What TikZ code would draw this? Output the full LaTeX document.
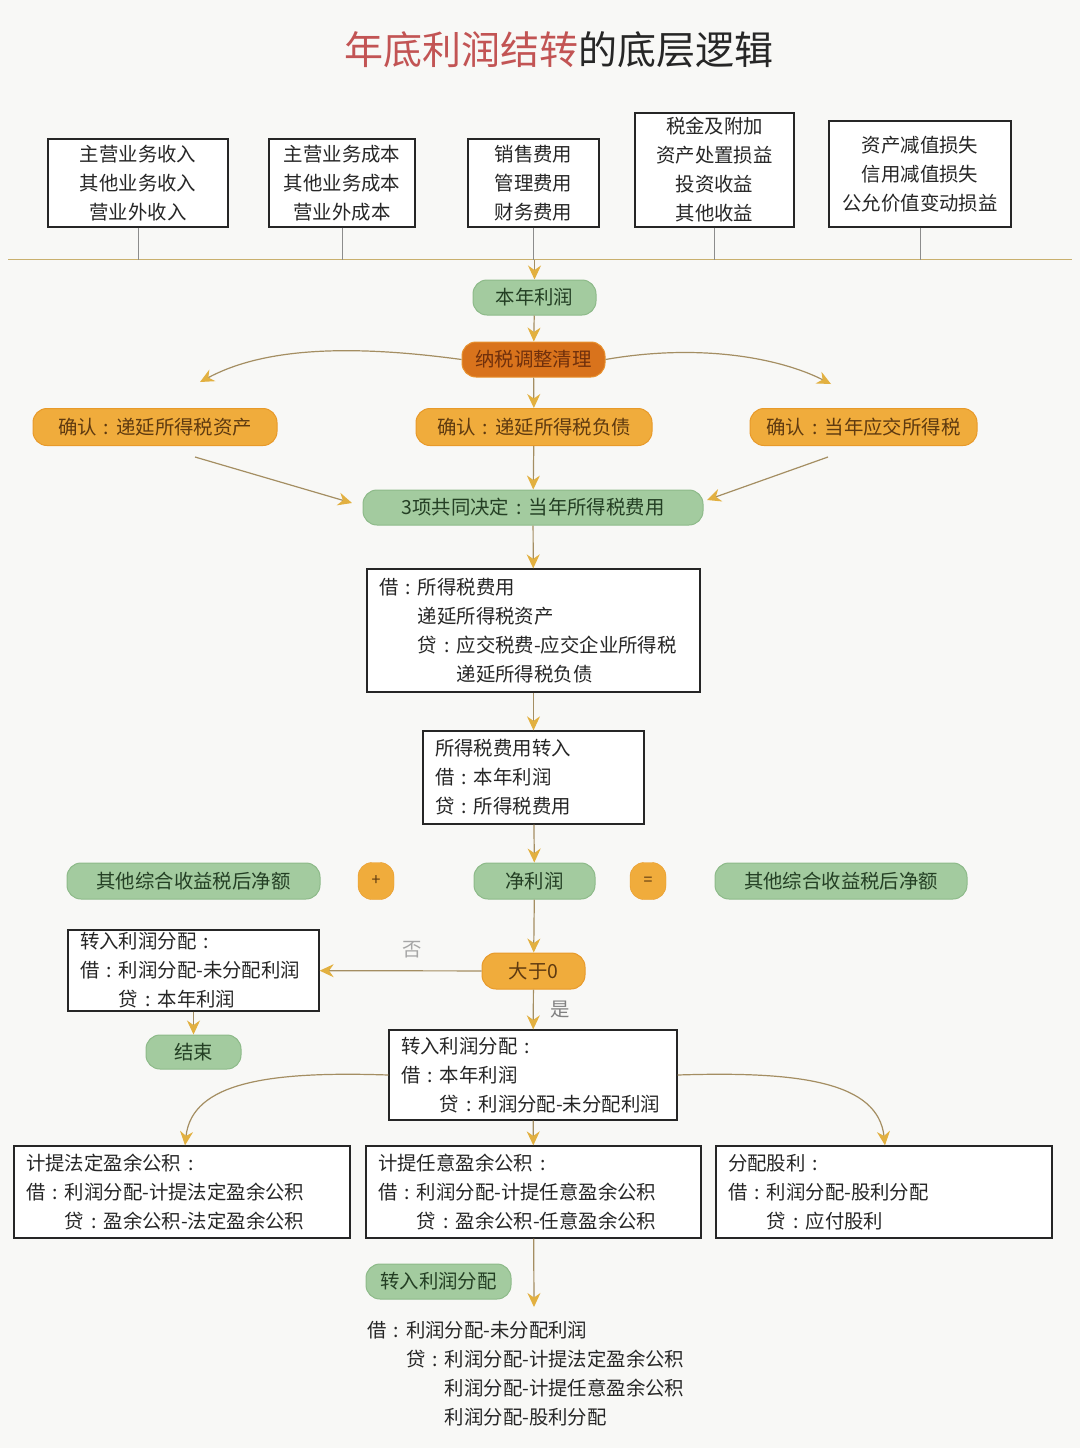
\documentclass[tikz,border=0pt]{standalone}
\usepackage{fontspec}
\setmainfont{Noto Sans CJK SC}
\usetikzlibrary{calc, positioning}
\usetikzlibrary{arrows.meta}

\definecolor{bgpaper}{HTML}{F8F8F6}
\definecolor{pillgreen}{HTML}{A3CB9F}
\definecolor{pillgreenline}{HTML}{8DBA89}
\definecolor{pillorange}{HTML}{F0AC3C}
\definecolor{pillorangeline}{HTML}{E89A2A}
\definecolor{pilldark}{HTML}{D9731C}
\definecolor{pilldarkline}{HTML}{E8912E}
\definecolor{greentext}{HTML}{243F24}
\definecolor{orangetext}{HTML}{5E3A10}
\definecolor{darktext}{HTML}{70300C}
\definecolor{linegold}{HTML}{A48E62}
\definecolor{tipgold}{HTML}{E2B040}
\definecolor{barline}{HTML}{C9B06E}
\definecolor{titlered}{HTML}{C25454}

% centred full-width colon
\newcommand{\jcolon}{\makebox[1em]{:}}

\begin{document}
\begin{tikzpicture}[x=1pt, y=-1pt,
  every node/.style={font=\fontsize{19.4}{29}\selectfont, text=black!85},
  topbox/.style={draw=black!85, line width=1.3pt, fill=white, align=center, inner sep=0pt},
  acct/.style={draw=black!85, line width=1.3pt, fill=white, align=left, inner xsep=12pt, inner ysep=0pt},
  greenpill/.style={draw=pillgreenline, line width=1pt, fill=pillgreen, rounded corners=14pt, text=greentext, inner sep=0pt},
  orangepill/.style={draw=pillorangeline, line width=1pt, fill=pillorange, rounded corners=14pt, text=orangetext, inner sep=0pt},
  darkpill/.style={draw=pilldarkline, line width=1pt, fill=pilldark, rounded corners=14pt, text=darktext, inner sep=0pt},
  opbox/.style={fill=pillorange, draw=pillorangeline, rounded corners=14pt, minimum width=36pt, minimum height=37pt, text=orangetext, inner sep=0pt, font=\fontsize{16}{18}\selectfont},
  stem/.style={draw=black!45, line width=0.8pt},
  arr/.style={draw=linegold, line width=1.2pt, -{Stealth[length=14pt, width=13pt, color=tipgold]}}
]
\useasboundingbox (0,0) rectangle (1080,1448);
\fill[bgpaper] (0,0) rectangle (1080,1448);

\node[font=\fontsize{39}{44}\selectfont] (title) at (559,50) {\textcolor{titlered}{年底利润结转}的底层逻辑};

% accounts closed at year end
\node[topbox, minimum width=180pt, minimum height=88pt] (inc) at (138,183) {主营业务收入\\其他业务收入\\营业外收入};
\node[topbox, minimum width=146pt, minimum height=88pt] (cost) at (342,183) {主营业务成本\\其他业务成本\\营业外成本};
\node[topbox, minimum width=131pt, minimum height=88pt] (exp) at (533.5,183) {销售费用\\管理费用\\财务费用};
\node[topbox, minimum width=159pt, minimum height=114pt] (gain) at (714.5,170) {税金及附加\\资产处置损益\\投资收益\\其他收益};
\node[topbox, minimum width=182pt, minimum height=106pt] (loss) at (920,174) {资产减值损失\\信用减值损失\\公允价值变动损益};

\coordinate (barL) at (8,259.5);
\coordinate (barR) at (1072,259.5);
\draw[barline, line width=1.5pt] (barL) -- (barR);
\foreach \b in {inc, cost, exp, gain, loss}
  \draw[stem] (\b.south) -- (\b.south |- barL);

% tax adjustment
\node[greenpill, minimum width=123pt, minimum height=35pt] (profit) at (534.5,297.5) {本年利润};
\node[darkpill, minimum width=143pt, minimum height=35pt] (adj) at (533.5,359.5) {纳税调整清理};
\node[orangepill, minimum width=244pt, minimum height=37pt] (dta) at (155,427) {确认\jcolon 递延所得税资产};
\node[orangepill, minimum width=236pt, minimum height=37pt] (dtl) at (534,427) {确认\jcolon 递延所得税负债};
\node[orangepill, minimum width=227pt, minimum height=37pt] (cur) at (863.5,427) {确认\jcolon 当年应交所得税};
\node[greenpill, minimum width=340pt, minimum height=35pt] (itax) at (533,507.5) {3项共同决定\jcolon 当年所得税费用};

\coordinate (dtaIn) at (200,382);
\coordinate (curIn) at (831,384);
\coordinate (dtaOut) at (195,457);
\coordinate (curOut) at (828,457);
\coordinate (itaxL) at (352,503);
\coordinate (itaxR) at (707,500);

\draw[arr] (profit.north |- barL) -- (profit);
\draw[arr] (profit) -- (adj);
\draw[arr] (adj) -- (dtl);
\draw[arr] (dtl) -- (itax);
\draw[arr] (adj.west) .. controls (340,343) and (260,350) .. (dtaIn);
\draw[arr] (adj.east) .. controls (700,343) and (780,358) .. (curIn);
\draw[arr] (dtaOut) -- (itaxL);
\draw[arr] (curOut) -- (itaxR);

% income tax entries
\node[acct, text width=309pt, minimum height=123pt] (je1) at (533.5,630.5)
  {借\jcolon 所得税费用\\\hspace*{2em}递延所得税资产\\\hspace*{2em}贷\jcolon 应交税费-应交企业所得税\\\hspace*{4em}递延所得税负债};
\node[acct, text width=197pt, minimum height=93pt] (je2) at (533.5,777.5)
  {所得税费用转入\\借\jcolon 本年利润\\贷\jcolon 所得税费用};
\draw[arr] (itax) -- (je1);
\draw[arr] (je1) -- (je2);

% net profit
\node[greenpill, minimum width=253pt, minimum height=36pt] (oci1) at (193.5,881) {其他综合收益税后净额};
\node[opbox] (plus) at (376,881) {+};
\node[greenpill, minimum width=121pt, minimum height=36pt] (np) at (534.5,881) {净利润};
\node[opbox] (eq) at (648,881) {=};
\node[greenpill, minimum width=252pt, minimum height=36pt] (oci2) at (841,881) {其他综合收益税后净额};
\draw[arr] (je2) -- (np);

\node[orangepill, minimum width=103pt, minimum height=36pt] (gt0) at (533.5,971) {大于0};
\draw[arr] (np) -- (gt0);

\node[acct, text width=227pt, minimum height=81pt] (neg) at (193.5,970.5)
  {转入利润分配\jcolon\\借\jcolon 利润分配-未分配利润\\\hspace*{2em}贷\jcolon 本年利润};
\node[greenpill, minimum width=95pt, minimum height=34pt] (end) at (193.5,1052) {结束};
\node[acct, text width=264pt, minimum height=90pt] (pos) at (533,1075)
  {转入利润分配\jcolon\\借\jcolon 本年利润\\\hspace*{2em}贷\jcolon 利润分配-未分配利润};

\draw[arr] (gt0) -- node[pos=0.43, yshift=21pt, text=black!35] {否} (neg);
\draw[arr] (neg) -- (end);
\draw[arr] (gt0) -- node[midway, xshift=27pt, text=black!50] {是} (pos);

% profit distribution
\node[acct, text width=312pt, minimum height=92pt] (sur1) at (182,1192)
  {计提法定盈余公积\jcolon\\借\jcolon 利润分配-计提法定盈余公积\\\hspace*{2em}贷\jcolon 盈余公积-法定盈余公积};
\node[acct, text width=311pt, minimum height=92pt] (sur2) at (533.5,1192)
  {计提任意盈余公积\jcolon\\借\jcolon 利润分配-计提任意盈余公积\\\hspace*{2em}贷\jcolon 盈余公积-任意盈余公积};
\node[acct, text width=312pt, minimum height=92pt] (div) at (884,1192)
  {分配股利\jcolon\\借\jcolon 利润分配-股利分配\\\hspace*{2em}贷\jcolon 应付股利};

\draw[arr] (pos.west) .. controls (270,1071) and (192,1082) .. (sur1.north -| 185,0);
\draw[arr] (pos.east) .. controls (800,1071) and (878,1082) .. (div.north -| 885,0);
\draw[arr] (pos) -- (sur2);

\node[greenpill, minimum width=145pt, minimum height=35pt] (trans) at (438.5,1281.5) {转入利润分配};
\coordinate (finalIn) at (534,1307);
\draw[arr] (sur2) -- (finalIn);

\node[anchor=north west, inner sep=0pt, align=left] (final) at (367,1321)
  {借\jcolon 利润分配-未分配利润\\\hspace*{2em}贷\jcolon 利润分配-计提法定盈余公积\\\hspace*{4em}利润分配-计提任意盈余公积\\\hspace*{4em}利润分配-股利分配};
\end{tikzpicture}
\end{document}
